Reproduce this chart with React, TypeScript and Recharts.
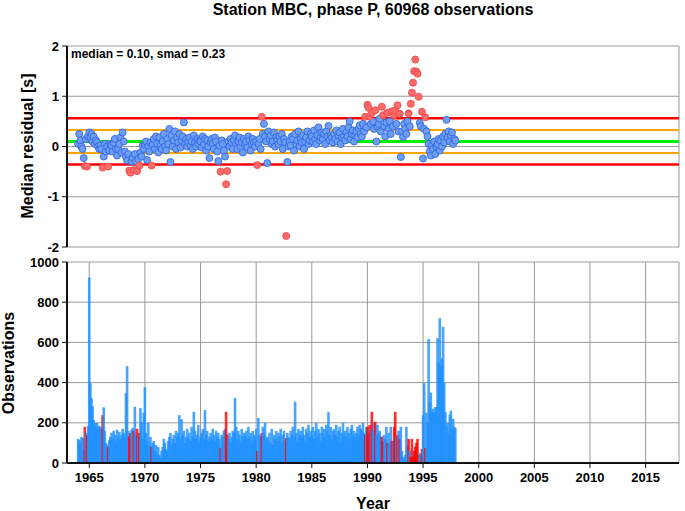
import { ComposedChart, Scatter, Bar, Cell, XAxis, YAxis, CartesianGrid, ReferenceLine } from "recharts";

// bins of 0.1 year, first bin at 1964.0
const firstYear = 1964;
const binWidth = 0.1;

// median residual per bin [s]
const residuals = [
  0.05, 0.25, 0.12, 0.0, -0.05, -0.23, -0.39, 0.15, -0.4, 0.2, // 1964
  0.28, 0.18, 0.25, 0.1, 0.2, 0.05, 0.12, 0.08, 0.0, -0.05, // 1965
  0.02, -0.05, -0.42, -0.2, 0.05, -0.1, 0.0, -0.4, -0.08, 0.05, // 1966
  0.02, -0.1, 0.08, 0.15, -0.05, -0.18, -0.05, 0.05, 0.18, -0.12, // 1967
  0.28, 0.1, -0.1, -0.2, -0.28, -0.15, -0.48, -0.52, -0.3, -0.22, // 1968
  -0.47, -0.15, -0.3, -0.49, -0.25, -0.38, -0.12, -0.2, 0.02, -0.05, // 1969
  0.05, 0.1, -0.27, 0.0, -0.1, 0.08, -0.38, 0.05, 0.15, -0.05, // 1970
  0.2, 0.05, -0.12, 0.18, 0.02, -0.05, 0.1, 0.25, 0.0, -0.08, // 1971
  0.15, 0.05, 0.35, -0.31, 0.22, 0.0, 0.12, 0.3, -0.05, 0.18, // 1972
  0.08, 0.25, -0.02, 0.12, 0.2, 0.48, 0.05, 0.15, 0.0, 0.1, // 1973
  0.18, 0.02, 0.1, -0.05, 0.22, 0.08, 0.0, 0.15, 0.05, 0.12, // 1974
  0.1, -0.02, 0.2, 0.05, 0.15, -0.08, 0.12, 0.0, -0.23, 0.08, // 1975
  0.15, 0.05, -0.05, 0.18, 0.1, -0.1, -0.29, 0.02, -0.5, 0.12, // 1976
  0.05, -0.08, -0.2, -0.75, -0.49, 0.1, 0.0, 0.15, 0.08, -0.05, // 1977
  0.12, 0.22, 0.05, -0.05, 0.1, 0.18, 0.0, 0.08, -0.12, 0.15, // 1978
  0.05, 0.1, -0.02, 0.2, 0.12, -0.08, 0.05, 0.15, 0.08, 0.0, // 1979
  0.1, -0.37, 0.05, 0.15, -0.05, 0.59, 0.25, 0.45, 0.2, 0.1, // 1980
  -0.33, 0.3, 0.15, 0.22, 0.05, 0.1, 0.28, 0.0, 0.18, 0.12, // 1981
  0.05, 0.2, 0.1, 0.25, -0.05, 0.15, 0.08, -1.78, -0.31, 0.0, // 1982
  0.1, 0.02, 0.2, 0.15, -0.08, 0.25, 0.05, 0.12, 0.3, 0.0, // 1983
  0.15, 0.08, 0.22, -0.05, 0.1, 0.18, 0.3, 0.05, 0.12, 0.25, // 1984
  0.2, 0.1, 0.32, 0.15, 0.05, 0.22, 0.38, 0.12, 0.18, 0.28, // 1985
  0.15, 0.25, 0.05, 0.3, 0.2, 0.41, 0.12, 0.22, 0.18, 0.08, // 1986
  0.25, 0.15, 0.32, 0.1, 0.22, 0.28, 0.05, 0.18, 0.35, 0.2, // 1987
  0.12, 0.28, 0.2, 0.38, 0.5, 0.15, 0.25, 0.32, 0.1, 0.22, // 1988
  0.3, 0.18, 0.35, 0.42, 0.25, 0.2, 0.45, 0.3, 0.59, 0.38, // 1989
  0.83, 0.77, 0.6, 0.45, 0.67, 0.5, 0.35, 0.72, 0.1, 0.4, // 1990
  0.45, 0.55, 0.3, 0.79, 0.62, 0.4, 0.2, 0.48, 0.67, 0.35, // 1991
  0.5, 0.25, 0.7, 0.4, 0.62, 0.72, 0.45, 0.82, 0.3, 0.65, // 1992
  -0.21, 0.3, 0.19, 0.45, 0.35, 0.25, 0.5, 0.66, 0.4, 0.85, // 1993
  1.07, 1.27, 1.5, 1.73, 1.49, 1.45, 0.99, 0.47, 0.4, 0.69, // 1994
  -0.24, 0.35, 0.58, 0.3, 0.2, 0.05, -0.1, -0.18, 0.02, -0.05, // 1995
  0.1, -0.15, 0.0, 0.05, 0.15, -0.08, 0.12, 0.0, 0.2, 0.08, // 1996
  0.25, 0.53, 0.18, 0.3, 0.1, 0.22, 0.28, 0.05, 0.15, 0.12, // 1997
];

// number of observations per bin
const counts = [
  120, 115, 100, 130, 125, 70, 180, 150, 140, 185, // 1964
  922, 397, 323, 283, 214, 198, 190, 200, 175, 185, // 1965
  180, 170, 238, 277, 160, 100, 90, 81, 114, 130, // 1966
  150, 120, 160, 140, 110, 165, 130, 155, 120, 140, // 1967
  170, 150, 130, 348, 482, 160, 131, 150, 165, 175, // 1968
  160, 280, 140, 170, 130, 150, 273, 200, 120, 250, // 1969
  377, 150, 110, 200, 90, 130, 81, 100, 110, 60, // 1970
  90, 50, 80, 40, 30, 60, 80, 120, 100, 70, // 1971
  60, 110, 130, 150, 90, 120, 140, 100, 160, 130, // 1972
  150, 238, 120, 218, 140, 160, 100, 130, 170, 120, // 1973
  150, 110, 180, 130, 255, 160, 120, 140, 190, 110, // 1974
  130, 150, 170, 120, 263, 140, 160, 110, 130, 150, // 1975
  120, 170, 140, 110, 160, 130, 150, 120, 76, 140, // 1976
  130, 160, 170, 255, 140, 120, 150, 100, 130, 160, // 1977
  150, 324, 180, 120, 160, 140, 110, 170, 130, 150, // 1978
  140, 160, 120, 180, 130, 150, 110, 160, 140, 120, // 1979
  170, 60, 224, 140, 130, 149, 180, 150, 200, 120, // 1980
  130, 110, 150, 100, 170, 90, 140, 120, 160, 110, // 1981
  150, 130, 170, 100, 140, 160, 110, 124, 150, 130, // 1982
  120, 160, 140, 180, 130, 305, 150, 110, 170, 140, // 1983
  160, 130, 180, 140, 110, 170, 150, 190, 130, 160, // 1984
  140, 180, 120, 160, 200, 130, 170, 150, 110, 180, // 1985
  150, 170, 130, 190, 160, 253, 140, 180, 120, 160, // 1986
  170, 140, 190, 130, 160, 180, 110, 150, 200, 140, // 1987
  160, 130, 180, 150, 120, 170, 190, 140, 160, 130, // 1988
  150, 180, 140, 190, 170, 160, 200, 150, 139, 180, // 1989
  180, 150, 190, 170, 255, 160, 200, 205, 140, 190, // 1990
  150, 160, 130, 131, 110, 140, 120, 180, 100, 150, // 1991
  100, 180, 110, 110, 180, 255, 130, 139, 160, 120, // 1992
  180, 60, 30, 20, 40, 180, 90, 120, 60, 30, // 1993
  120, 30, 60, 81, 100, 120, 40, 50, 40, 70, // 1994
  238, 397, 75, 250, 200, 616, 300, 350, 255, 270, // 1995
  250, 278, 278, 621, 500, 720, 480, 520, 678, 400, // 1996
  255, 180, 200, 150, 240, 260, 170, 220, 180, 174, // 1997
];

const median = 0.1;
const smad = 0.23;

const yearTicks = [1965, 1970, 1975, 1980, 1985, 1990, 1995, 2000, 2005, 2010, 2015];
const residualTicks = [-2, -1, 0, 1, 2];
const countTicks = [0, 200, 400, 600, 800, 1000];

const FONT = "'Liberation Sans', Arial, Helvetica, sans-serif";
const hi = median + 2 * smad;
const lo = median - 2 * smad;

const rows = residuals.map((r, i) => ({
  x: Math.round((firstYear + i * binWidth) * 10) / 10,
  y: r,
  n: counts[i],
  out: r > hi || r < lo,
}));
const inliers = rows.filter((d) => !d.out);
const outliers = rows.filter((d) => d.out);

const tickStyle = { fill: "#000", fontSize: 13, fontWeight: "bold", fontFamily: FONT };
const frame = { stroke: "#111", strokeWidth: 2 };
const tickLine = { stroke: "#111", strokeWidth: 1 };

const dot = (fill: string, stroke: string) => (props: any) =>
  <circle cx={props.cx} cy={props.cy} r={3.5} fill={fill} stroke={stroke} strokeWidth={0.9} />;

// recharts squeezes bars to the bin spacing, widen them a little so neighbours overlap
const WideBar = (props: any) => {
  const { x, y, width, height, fill } = props;
  if (!height || height <= 0) return null;
  const w = 2.6;
  return <rect x={x + width / 2 - w / 2} y={y} width={w} height={height} fill={fill} fillOpacity={0.82} />;
};

export default function App() {
  return (
    <div style={{ position: "absolute", left: 0, top: 0, width: 685, height: 511, background: "#fff" }}>
      <div style={{ position: "absolute", left: 0, top: 0 }}>
        <ComposedChart width={685} height={260} margin={{ top: 46, right: 6, bottom: 13, left: 0 }}>
          <CartesianGrid stroke="#9a9a9a" strokeWidth={1} />
          <XAxis dataKey="x" type="number" domain={[1963, 2018]} ticks={yearTicks} allowDataOverflow
            height={0} tick={false} tickSize={5} axisLine={frame} tickLine={tickLine} />
          <XAxis xAxisId="top" orientation="top" type="number" domain={[1963, 2018]} ticks={yearTicks} allowDataOverflow
            height={0} tick={false} tickSize={5} axisLine={frame} tickLine={tickLine} />
          <YAxis dataKey="y" type="number" domain={[-2, 2]} ticks={residualTicks} allowDataOverflow width={67}
            tick={tickStyle} tickSize={5} tickMargin={3} axisLine={frame} tickLine={tickLine} interval={0} />
          <YAxis yAxisId="right" orientation="right" type="number" domain={[-2, 2]} ticks={residualTicks} allowDataOverflow
            width={0} tick={false} tickSize={5} axisLine={frame} tickLine={tickLine} />
          <ReferenceLine y={hi} stroke="#ff0000" strokeWidth={2.5} />
          <ReferenceLine y={lo} stroke="#ff0000" strokeWidth={2.5} />
          <ReferenceLine y={median + smad} stroke="#ffa500" strokeWidth={2} />
          <ReferenceLine y={median - smad} stroke="#ffa500" strokeWidth={2} />
          <ReferenceLine y={median} stroke="#00ee00" strokeWidth={3} />
          <Scatter data={inliers} isAnimationActive={false} shape={dot("#6d9ef2", "#3266e6")} />
          <Scatter data={outliers} isAnimationActive={false} shape={dot("#ff6b6b", "#f04a4a")} />
        </ComposedChart>
      </div>
      <div style={{ position: "absolute", left: 0, top: 250 }}>
        <ComposedChart width={685} height={261} data={rows} margin={{ top: 12, right: 6, bottom: 0, left: 0 }}>
          <CartesianGrid stroke="#9a9a9a" strokeWidth={1} />
          <XAxis dataKey="x" type="number" domain={[1963, 2018]} ticks={yearTicks} allowDataOverflow
            height={48} tick={tickStyle} tickSize={5} tickMargin={5} axisLine={frame} tickLine={tickLine} interval={0} />
          <XAxis xAxisId="top" orientation="top" type="number" domain={[1963, 2018]} ticks={yearTicks} allowDataOverflow
            height={0} tick={false} tickSize={5} axisLine={frame} tickLine={tickLine} />
          <YAxis type="number" domain={[0, 1000]} ticks={countTicks} allowDataOverflow width={67}
            tick={tickStyle} tickSize={5} tickMargin={3} axisLine={frame} tickLine={tickLine} interval={0} />
          <YAxis yAxisId="right" orientation="right" type="number" domain={[0, 1000]} ticks={countTicks} allowDataOverflow
            width={0} tick={false} tickSize={5} axisLine={frame} tickLine={tickLine} />
          <Bar dataKey="n" isAnimationActive={false} shape={WideBar}>
            {rows.map((d, i) => (
              <Cell key={`bar-${i}`} fill={d.out ? "#ff0000" : "#1e90ff"} />
            ))}
          </Bar>
        </ComposedChart>
      </div>
      <svg width={685} height={511} style={{ position: "absolute", left: 0, top: 0, pointerEvents: "none" }}
        fontFamily={FONT} fontWeight="bold">
        <text x={373} y={15} textAnchor="middle" fontSize={16}>Station MBC, phase P, 60968 observations</text>
        <text x={71} y={58} fontSize={12}>median = 0.10, smad = 0.23</text>
        <text transform="translate(33,146) rotate(-90)" textAnchor="middle" fontSize={16}>Median residual [s]</text>
        <text transform="translate(14,363) rotate(-90)" textAnchor="middle" fontSize={16}>Observations</text>
        <text x={373} y={509} textAnchor="middle" fontSize={16}>Year</text>
      </svg>
    </div>
  );
}
